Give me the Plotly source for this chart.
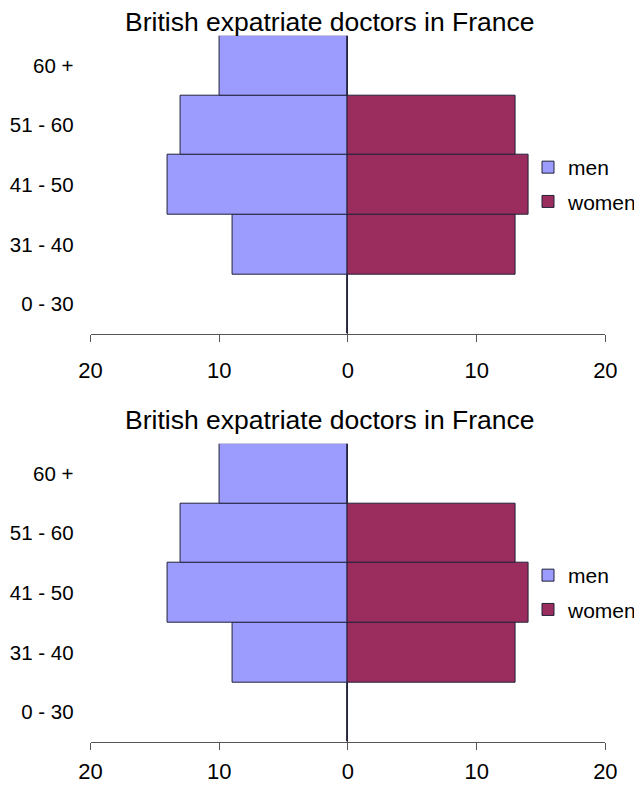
"""Population-pyramid style bar chart of British expatriate doctors in France."""

import plotly.graph_objects as go

age_groups = ["0 - 30", "31 - 40", "41 - 50", "51 - 60", "60 +"]
men = [0, 9, 14, 13, 10]
women = [0, 13, 14, 13, 0]

tick_vals = [-20, -10, 0, 10, 20]
tick_text = ["20", "10", "0", "10", "20"]

title_text = "British expatriate doctors in France"

MEN_COLOR = "#9C9CFF"
WOMEN_COLOR = "#9B2C5E"
LINE_COLOR = "#22223A"
AXIS_COLOR = "#555555"
FONT = "Liberation Sans, Arial, sans-serif"

# the page body adds an 8px margin, so the figure is a bit smaller than the window
W, H = 634, 778


def py(px):
    """Convert a pixel row (from the top of the figure) to paper coordinates."""
    return (H - px) / H


fig = go.Figure()

panels = [
    {"x": "x", "y": "y", "legend": "legend", "top": 27.7, "bottom": 326,
     "leg": 139, "title": 14, "standoff": 10},
    {"x": "x2", "y": "y2", "legend": "legend2", "top": 435.7, "bottom": 734,
     "leg": 547, "title": 412, "standoff": 3},
]

for p in panels:
    fig.add_trace(
        go.Bar(
            y=age_groups,
            x=[-v for v in men],
            name="men",
            orientation="h",
            marker=dict(color=MEN_COLOR, line=dict(color=LINE_COLOR, width=1)),
            xaxis=p["x"],
            yaxis=p["y"],
            legend=p["legend"],
            legendgroup="men",
        )
    )
    fig.add_trace(
        go.Bar(
            y=age_groups,
            x=women,
            name="women",
            orientation="h",
            marker=dict(color=WOMEN_COLOR, line=dict(color=LINE_COLOR, width=1)),
            xaxis=p["x"],
            yaxis=p["y"],
            legend=p["legend"],
            legendgroup="women",
        )
    )

xaxis_style = dict(
    range=[-20, 20],
    tickvals=tick_vals,
    ticktext=tick_text,
    showgrid=False,
    zeroline=True,
    zerolinecolor=AXIS_COLOR,
    zerolinewidth=1,
    showline=True,
    linecolor=AXIS_COLOR,
    linewidth=1,
    ticks="outside",
    ticklen=7,
    tickcolor=AXIS_COLOR,
    tickfont=dict(family=FONT, size=22, color="black"),
    domain=[82.7 / W, 598.3 / W],
    automargin=False,
    fixedrange=True,
)

yaxis_style = dict(
    type="category",
    categoryorder="array",
    categoryarray=age_groups,
    range=[-0.5, 4.5],
    showgrid=False,
    showline=False,
    zeroline=False,
    ticks="",
    ticklabelstandoff=16,
    tickfont=dict(family=FONT, size=20.5, color="black"),
    automargin=False,
    fixedrange=True,
)

legend_style = dict(
    font=dict(family=FONT, size=21, color="black"),
    bgcolor="rgba(0,0,0,0)",
    xanchor="left",
    yanchor="top",
    x=521 / W,
    traceorder="grouped",
    tracegroupgap=4,
)

layout_axes = {}
for i, p in enumerate(panels):
    suffix = "" if i == 0 else str(i + 1)
    layout_axes["xaxis" + suffix] = dict(
        xaxis_style, anchor=p["y"], ticklabelstandoff=p["standoff"]
    )
    layout_axes["yaxis" + suffix] = dict(
        yaxis_style, anchor=p["x"], domain=[py(p["bottom"]), py(p["top"])]
    )
    layout_axes[p["legend"]] = dict(legend_style, y=py(p["leg"]))

fig.update_layout(
    width=W,
    height=H,
    margin=dict(l=0, r=0, t=0, b=0),
    plot_bgcolor="white",
    paper_bgcolor="white",
    barmode="relative",
    bargap=0,
    showlegend=True,
    annotations=[
        dict(
            text=title_text,
            xref="paper",
            yref="paper",
            x=322 / W,
            y=py(p["title"]),
            xanchor="center",
            yanchor="middle",
            showarrow=False,
            font=dict(family=FONT, size=26.5, color="black"),
        )
        for p in panels
    ],
    **layout_axes,
)

fig.write_html("out.html")
